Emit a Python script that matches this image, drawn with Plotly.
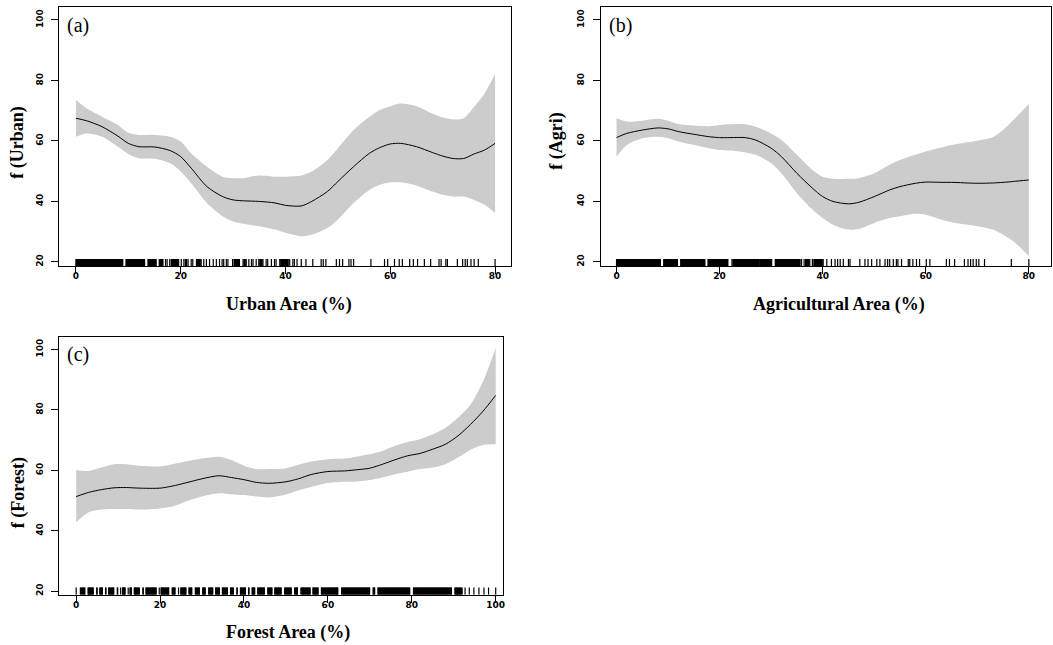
import plotly.graph_objects as go

W, H = 1053, 645

# ---------------- Panel (a): urban area ----------------
urban_x = [0, 2, 5, 8, 10, 12, 15, 18, 20, 22, 25, 28, 30, 32, 35, 38, 40, 43, 45, 48,
           50, 53, 56, 58, 60, 62, 65, 68, 70, 72, 74, 76, 78, 80]
urban_fit = [67.5, 66.7, 64.7, 61.6, 59.2, 58.1, 58.0, 56.8, 54.8, 51.0, 44.9, 41.6, 40.5, 40.2,
             40.0, 39.5, 38.7, 38.5, 40.0, 43.3, 46.6, 51.5, 55.9, 57.8, 59.0, 59.2, 58.1, 56.2,
             55.0, 54.2, 54.2, 55.7, 57.0, 59.2]
urban_upper = [73.5, 70.8, 68.0, 65.3, 62.7, 62.0, 62.0, 61.4, 59.8, 55.9, 51.5, 48.2, 47.7, 47.7,
               48.6, 48.2, 48.2, 48.6, 49.9, 53.7, 57.6, 63.6, 68.0, 70.2, 71.5, 72.4, 71.5, 69.1,
               67.8, 67.1, 67.5, 71.3, 75.7, 82.1]
urban_lower = [61.4, 62.5, 61.4, 58.1, 55.7, 54.3, 54.1, 52.6, 49.9, 46.0, 39.5, 35.1, 33.4, 32.6,
               31.8, 30.7, 29.6, 28.5, 29.0, 31.2, 34.0, 39.5, 43.8, 45.5, 46.3, 46.3, 45.2, 43.3,
               42.2, 41.6, 41.6, 40.5, 38.9, 36.2]
urban_rug = [
    0.0, 0.2, 0.5, 0.7, 1.0, 1.2, 1.5, 1.7, 2.0, 2.3, 2.5, 2.8, 3.0, 3.3, 3.5, 3.8, 4.0, 4.3,
    4.5, 4.8, 5.0, 5.3, 5.5, 5.8, 6.0, 6.3, 6.5, 6.8, 7.0, 7.3, 7.5, 7.8, 8.0, 8.3, 8.5, 8.8, 8.9,
    9.6, 9.7, 9.9, 10.2, 10.4, 10.7, 10.9, 11.2, 11.4, 11.7, 11.9, 12.2, 12.4, 12.7, 12.9, 13.1,
    13.8, 13.9, 14.1, 14.4, 14.6, 14.9, 15.1, 15.3,
    15.9, 16.1, 16.4, 16.6, 17.1, 17.4, 17.9, 18.3, 18.7, 19.0, 19.3, 19.6,
    20.1, 20.6, 21.0, 21.4, 22.0, 22.3, 23.0, 23.3, 23.6, 23.9, 24.4, 24.9, 25.5, 26.2, 26.8,
    27.4, 27.9, 28.2, 28.7, 29.0, 29.9, 30.3, 30.6, 30.9, 31.2, 31.9, 32.2, 32.5, 33.0, 33.5,
    33.8, 34.4, 34.9, 35.2, 35.4, 35.7, 36.3, 36.6, 37.3, 37.9, 38.2, 38.9, 39.2, 39.5, 39.9,
    40.1, 40.4, 40.8, 41.4, 41.7, 42.2, 43.0, 43.9, 45.2, 46.8, 47.2, 47.7, 49.7, 50.3, 50.9,
    52.1, 52.5, 53.0, 56.3, 58.9, 59.5, 60.8, 61.7, 62.3, 63.7, 64.4, 65.2, 66.5, 67.7, 69.3,
    69.7, 70.6, 70.9, 72.8, 73.8, 74.3, 74.7, 75.4, 76.0, 76.8, 80.0]

# ---------------- Panel (b): agricultural area ----------------
agri_x = [0, 2, 5, 8, 10, 12, 15, 18, 20, 22, 25, 27, 30, 32, 35, 38, 40, 42, 45, 47,
          50, 53, 55, 58, 60, 63, 65, 70, 73, 75, 77, 80]
agri_fit = [61.1, 62.5, 63.6, 64.3, 64.0, 63.1, 62.2, 61.4, 61.1, 61.1, 61.1, 60.3, 57.6, 54.8,
            49.3, 44.4, 41.6, 40.0, 39.2, 39.7, 41.6, 43.8, 44.9, 46.0, 46.4, 46.3, 46.3, 46.0,
            46.1, 46.3, 46.6, 47.1]
agri_upper = [67.5, 66.4, 66.7, 67.3, 66.7, 65.6, 65.1, 64.9, 65.3, 65.5, 65.5, 64.7, 62.5, 60.3,
              55.4, 50.4, 48.2, 47.5, 47.5, 47.7, 49.3, 52.1, 53.7, 55.4, 56.5, 57.8, 58.7, 60.1,
              61.2, 63.6, 66.9, 72.2]
agri_lower = [54.8, 58.7, 60.9, 61.4, 60.9, 59.8, 58.7, 57.6, 57.0, 56.8, 56.2, 55.4, 52.6, 49.3,
              42.7, 37.3, 34.5, 32.3, 30.7, 30.9, 32.9, 34.5, 35.1, 35.9, 35.6, 34.0, 33.1, 31.8,
              30.7, 29.0, 26.8, 21.9]
agri_rug = [
    0.0, 0.3, 0.5, 0.8, 1.1, 1.3, 1.6, 1.9, 2.1, 2.4, 2.7, 2.9, 3.2, 3.5, 3.7, 4.0, 4.3, 4.5,
    4.8, 5.1, 5.3, 5.6, 5.9, 6.1, 6.4, 6.7, 6.9, 7.2, 7.5, 7.7, 8.0, 8.3, 8.5,
    9.2, 9.3, 9.5, 9.8, 10.1, 10.3, 10.6, 10.9, 11.1, 11.4, 11.7, 11.8,
    12.5, 12.6, 12.7, 13.0, 13.3, 13.5, 13.8, 14.1, 14.3, 14.6, 14.9, 15.1, 15.4, 15.7, 15.9,
    16.2, 16.5, 16.7, 17.0, 17.1,
    17.8, 17.9, 18.2, 18.4, 18.7, 19.0, 19.3, 19.5, 19.9, 20.2, 20.5, 20.8, 21.1, 21.4, 21.6,
    22.4, 22.7, 22.9, 23.2, 23.5, 23.8, 24.0, 24.3, 24.6, 24.9, 25.1, 25.4, 25.7, 26.0, 26.3,
    26.7, 27.0, 27.3, 27.5, 27.9, 28.2, 28.4, 28.8, 29.1, 29.4, 29.8, 30.1,
    30.8, 31.0, 31.3, 31.6, 31.8, 32.1, 32.5, 32.8, 33.0, 33.3, 33.7, 34.0, 34.2, 34.6, 34.9,
    35.2, 35.5, 35.9, 36.4, 36.8, 37.2, 37.5, 38.0, 38.4, 38.7, 39.1, 39.5, 39.8,
    40.1, 40.8, 41.7, 42.4, 42.9, 43.4, 44.0, 45.0, 45.3, 47.2, 48.2, 48.8, 49.5, 50.5, 51.1,
    52.1, 52.6, 53.0, 53.7, 54.3, 54.6, 55.3, 56.6, 56.9, 57.5, 58.2, 58.8, 60.1, 60.8, 64.0,
    64.6, 65.6, 67.5, 68.2, 68.7, 69.2, 69.8, 70.3, 71.4, 76.6, 80.0]

# ---------------- Panel (c): forest area ----------------
forest_x = [0, 3, 6, 9, 12, 15, 20, 23, 26, 30, 34, 37, 40, 43, 46, 50, 53, 56, 60, 64,
            67, 70, 73, 76, 79, 82, 85, 88, 91, 94, 97, 100]
forest_fit = [51.3, 52.7, 53.6, 54.2, 54.3, 54.1, 54.1, 54.8, 55.8, 57.2, 58.2, 57.6, 56.9, 56.0,
              55.7, 56.2, 57.2, 58.6, 59.6, 59.8, 60.2, 60.7, 62.0, 63.5, 64.8, 65.6, 67.0, 68.6,
              71.4, 75.2, 79.6, 84.8]
forest_upper = [60.1, 59.8, 60.9, 62.0, 62.0, 61.5, 61.3, 62.0, 62.9, 63.9, 64.5, 63.4, 61.5, 60.4,
                60.4, 60.7, 61.8, 62.9, 63.7, 63.9, 64.6, 65.3, 66.4, 68.1, 69.4, 70.3, 71.9, 74.1,
                77.4, 81.8, 89.5, 100.5]
forest_lower = [42.8, 46.1, 47.0, 47.2, 47.2, 47.0, 47.4, 48.0, 49.6, 51.3, 52.4, 52.1, 51.8, 51.3,
                51.0, 52.0, 53.4, 54.5, 55.8, 56.2, 56.3, 56.8, 57.6, 58.7, 59.5, 60.4, 60.9, 62.0,
                64.2, 66.8, 68.4, 68.6]
forest_rug = [
    0.0, 1.0, 1.3, 1.6, 1.9, 2.0, 2.9, 3.0, 3.3, 3.6, 3.9, 4.0, 4.9, 5.0, 5.7, 5.8, 6.1, 6.2,
    7.0, 7.1, 7.8, 7.9, 8.2, 8.5, 8.8, 8.9, 9.8, 9.9, 10.6, 11.1, 11.2, 11.5, 11.6, 12.4,
    12.9, 13.0, 13.1, 13.9, 14.0, 14.3, 14.6, 14.9, 15.0, 15.9, 16.0, 16.7, 16.8, 17.1, 17.4,
    17.7, 18.0, 18.3, 18.6, 18.9, 19.0, 19.8, 20.3, 20.4, 20.7, 21.0, 21.3, 21.6, 21.9, 22.0,
    22.9, 23.1, 23.4, 23.5, 24.4, 25.0, 25.1, 25.4, 25.7, 26.0, 26.1, 26.9, 27.1, 27.4, 27.5,
    28.4, 28.6, 28.9, 29.2, 29.3, 30.2, 30.3, 30.6, 30.7, 31.6, 31.8, 32.1, 32.4, 32.5,
    33.3, 33.4, 33.7, 34.0, 34.1, 34.9, 35.0, 35.3, 35.6, 35.9, 36.0, 36.8, 37.0, 37.3, 37.4,
    38.3, 38.4, 39.2, 39.3, 39.6, 39.9, 40.2, 40.3, 41.1, 41.2, 42.0, 42.1, 42.4, 42.5,
    43.3, 43.5, 43.8, 44.1, 44.4, 44.7, 44.8, 45.7, 45.9, 46.2, 46.5, 46.6, 47.4, 47.5, 47.8,
    48.1, 48.4, 48.7, 48.8, 49.7, 49.9, 50.2, 50.5, 50.8, 51.1, 51.2, 52.1, 52.3, 52.6, 52.7,
    53.6, 53.8, 54.1, 54.4, 54.7, 55.0, 55.3, 55.6, 55.7, 56.5, 56.6, 56.9, 57.2, 57.5, 57.6,
    58.5, 58.6, 58.9, 59.2, 59.5, 59.8, 60.1, 60.4, 60.7, 61.0, 61.3, 61.6, 61.9, 62.2, 62.3,
    63.3, 63.5, 63.8, 64.1, 64.4, 64.7, 65.0, 65.3, 65.6, 65.9, 66.2, 66.5, 66.8, 67.1, 67.4,
    67.7, 68.0, 68.3, 68.6, 68.9, 69.2, 69.5, 69.8, 69.9, 70.8, 71.0, 71.1,
    72.0, 72.1, 72.4, 72.7, 73.0, 73.3, 73.6, 73.9, 74.2, 74.5, 74.8, 75.1, 75.4, 75.7, 76.0,
    76.3, 76.6, 76.9, 77.2, 77.5, 77.8, 78.1, 78.4, 78.7, 79.0, 79.3, 79.5,
    80.4, 80.6, 80.9, 81.2, 81.5, 81.8, 82.1, 82.4, 82.7, 83.0, 83.3, 83.6, 83.9, 84.2, 84.5,
    84.8, 85.1, 85.4, 85.7, 86.0, 86.3, 86.6, 86.9, 87.2, 87.5, 87.8, 88.1, 88.4, 88.7, 89.0,
    89.3, 89.4, 90.3, 90.5, 90.8, 91.1, 91.4, 91.7, 92.0, 92.7, 93.7, 94.8, 96.0, 97.2, 98.3,
    100.0]

x_titles = ["Urban Area (%)", "Agricultural Area (%)", "Forest Area (%)"]
y_titles = ["f (Urban)", "f (Agri)", "f (Forest)"]
panel_tags = ["(a)", "(b)", "(c)"]
y_ticks = [20, 40, 60, 80, 100]


def px(v):
    return v / W


def py(v):
    return 1 - v / H


def split_rug(vals, near=0.45):
    """Separate observations inside tightly packed runs from isolated ones."""
    packed, lone = [], []
    for k, v in enumerate(vals):
        left = v - vals[k - 1] if k > 0 else 99
        right = vals[k + 1] - v if k < len(vals) - 1 else 99
        (packed if (left < near and right < near) else lone).append(v)
    return packed, lone


def rug_segments(vals):
    xs, ys = [], []
    for v in vals:
        xs += [v, v, None]
        ys += [0, 0.028, None]
    return xs, ys


panels = [
    dict(x=urban_x, fit=urban_fit, up=urban_upper, lo=urban_lower, rug=urban_rug,
         xdom=[px(59.3), px(512.3)], ydom=[py(266.7), py(7.3)],
         xr=[-3.2, 83.1], yr=[18.55, 104.2], xt=[0, 20, 40, 60, 80],
         xtitle=(290, 305), ytitle=(18, 142), tag=(65, 26)),
    dict(x=agri_x, fit=agri_fit, up=agri_upper, lo=agri_lower, rug=agri_rug,
         xdom=[px(601.7), 1.0], ydom=[py(266.7), py(7.3)],
         xr=[-3.1, 84.3], yr=[18.55, 104.2], xt=[0, 20, 40, 60, 80],
         xtitle=(841, 305), ytitle=(558, 141), tag=(608, 26)),
    dict(x=forest_x, fit=forest_fit, up=forest_upper, lo=forest_lower, rug=forest_rug,
         xdom=[px(59.3), px(504)], ydom=[py(595.7), py(337.3)],
         xr=[-4.05, 101.75], yr=[18.8, 104.2], xt=[0, 20, 40, 60, 80, 100],
         xtitle=(289, 633), ytitle=(18, 493), tag=(65, 355)),
]

fig = go.Figure()
tick_font = dict(family="DejaVu Sans", size=9, color="black", weight="bold")
layout = dict(width=W, height=H, margin=dict(l=0, r=0, t=0, b=0),
              paper_bgcolor="white", plot_bgcolor="white", showlegend=False)
annotations = []

for i, p in enumerate(panels):
    n = "" if i == 0 else str(i + 1)
    xa, ya = "x" + n, "y" + n
    # confidence band
    fig.add_trace(go.Scatter(x=p["x"], y=p["lo"], mode="lines",
                             line=dict(width=0, shape="spline", smoothing=0.8),
                             xaxis=xa, yaxis=ya, hoverinfo="skip"))
    fig.add_trace(go.Scatter(x=p["x"], y=p["up"], mode="lines", fill="tonexty", fillcolor="#cccccc",
                             line=dict(width=0, shape="spline", smoothing=0.8), xaxis=xa, yaxis=ya))
    # fitted smooth
    fig.add_trace(go.Scatter(x=p["x"], y=p["fit"], mode="lines",
                             line=dict(color="black", width=1, shape="spline", smoothing=0.8),
                             xaxis=xa, yaxis=ya))
    # rug of observations on an overlay axis spanning [0, 1]
    rug_y = "y" + str(4 + i)
    packed, lone = split_rug(p["rug"])
    for vals, lw in ((packed, 2.4), (lone, 1.2)):
        rx, ry = rug_segments(vals)
        fig.add_trace(go.Scatter(x=rx, y=ry, mode="lines", line=dict(color="black", width=lw),
                                 xaxis=xa, yaxis=rug_y, hoverinfo="skip"))
    layout["yaxis" + str(4 + i)] = dict(domain=p["ydom"], range=[0, 1], overlaying=ya,
                                        anchor=xa, visible=False)
    common = dict(showline=True, linecolor="black", linewidth=1, mirror=True, ticks="outside",
                  ticklen=7, tickwidth=1, tickcolor="black", showgrid=False, zeroline=False,
                  tickfont=tick_font)
    layout["xaxis" + n] = dict(common, domain=p["xdom"], range=p["xr"], tickvals=p["xt"],
                               anchor=ya, ticklabelstandoff=-6)
    layout["yaxis" + n] = dict(common, domain=p["ydom"], range=p["yr"], tickvals=y_ticks,
                               tickangle=-90, anchor=xa, ticklabelstandoff=5)
    annotations.append(dict(text=x_titles[i], xref="paper", yref="paper", x=px(p["xtitle"][0]),
                            y=py(p["xtitle"][1]), xanchor="center", yanchor="middle", showarrow=False,
                            font=dict(family="Liberation Serif", size=18, color="black", weight="bold")))
    annotations.append(dict(text=y_titles[i], xref="paper", yref="paper", x=px(p["ytitle"][0]),
                            y=py(p["ytitle"][1]), xanchor="center", yanchor="middle", showarrow=False,
                            textangle=-90,
                            font=dict(family="Liberation Serif", size=18, color="black", weight="bold")))
    annotations.append(dict(text=panel_tags[i], xref="paper", yref="paper", x=px(p["tag"][0]),
                            y=py(p["tag"][1]), xanchor="left", yanchor="middle", showarrow=False,
                            font=dict(family="Liberation Serif", size=20, color="black")))

layout["annotations"] = annotations
fig.update_layout(**layout)
fig.write_html("out.html")
